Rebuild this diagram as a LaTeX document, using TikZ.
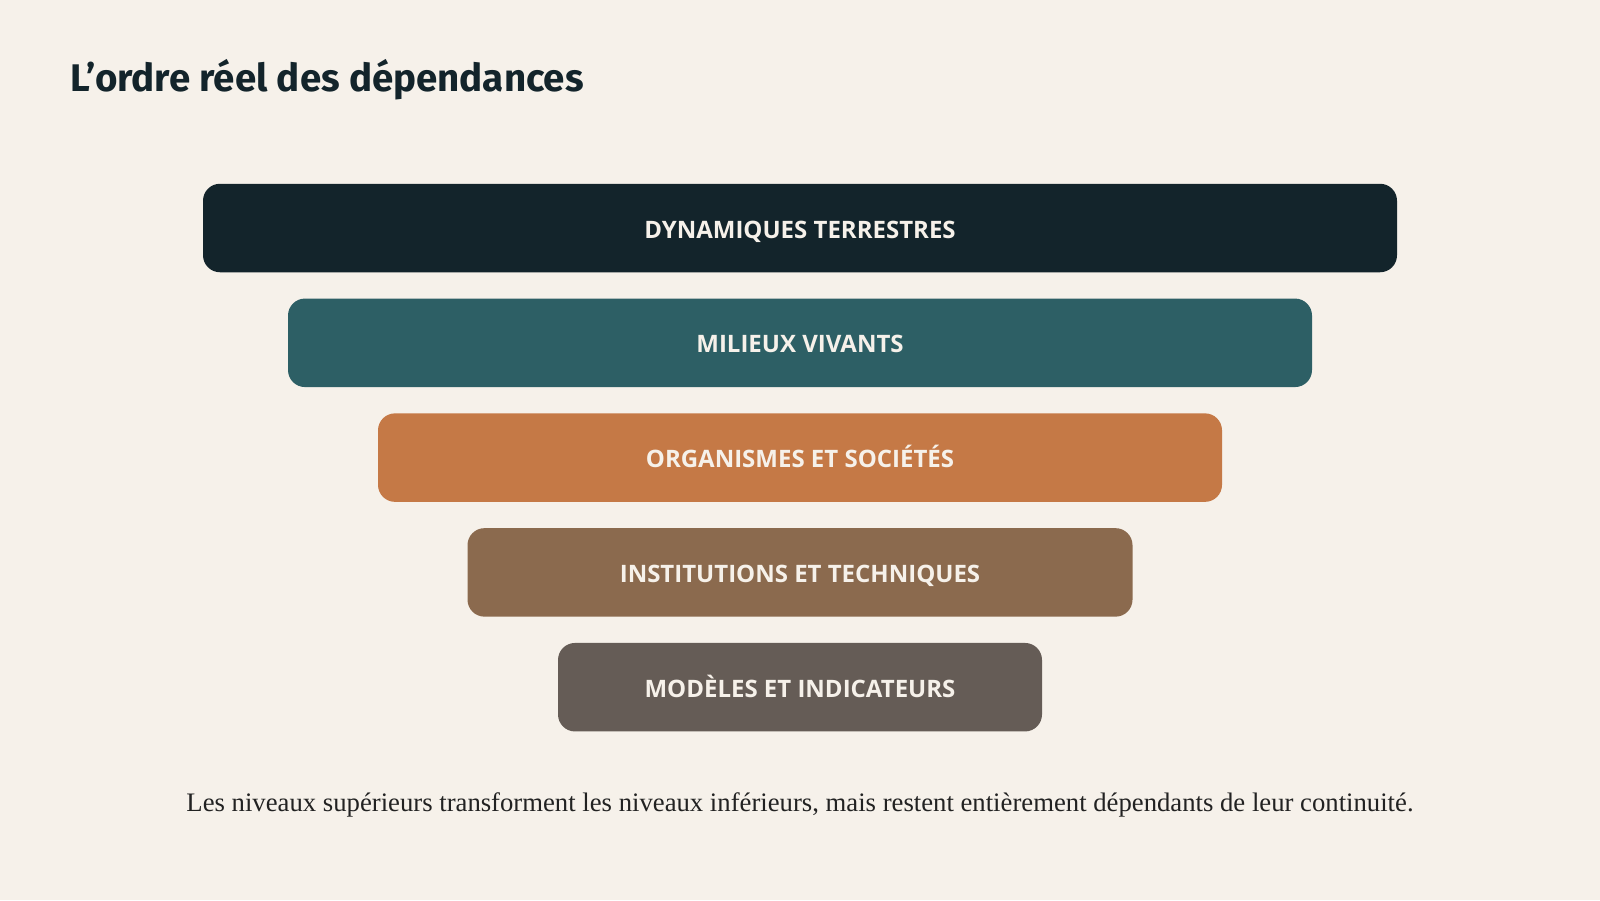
\documentclass[tikz,border=0pt]{standalone}
\usepackage{fontspec}
\setmainfont{Liberation Serif}
\setsansfont{Fira Sans}
\newfontfamily\labelfont{Open Sans}
\usetikzlibrary{positioning}

\definecolor{paper}{HTML}{F6F1EA}
\definecolor{ink}{HTML}{13242B}
\definecolor{caption}{HTML}{222222}
\definecolor{terre}{HTML}{13242B}
\definecolor{vivant}{HTML}{2D5F65}
\definecolor{societe}{HTML}{C57946}
\definecolor{technique}{HTML}{8B6A4E}
\definecolor{modele}{HTML}{655C56}

\begin{document}
\begin{tikzpicture}[
      x=1pt, y=-1pt,
      level/.style={rounded corners=17pt, minimum height=88.5pt, inner sep=0pt,
        text height=20pt, text depth=0pt,
        text=paper, font=\labelfont\bfseries\fontsize{24}{28}\selectfont},
      title/.style={anchor=base west, text=ink, inner sep=0pt,
        font=\sffamily\bfseries\fontsize{38.5}{44}\selectfont},
      note/.style={anchor=base, text=caption, inner sep=0pt,
        font=\rmfamily\fontsize{26.7}{32}\selectfont}
    ]

    % Background and page size
    \fill[paper] (0,0) rectangle (1600,900);
    \useasboundingbox (0,0) rectangle (1600,900);

    % Title
    \node[title] (titre) at (70,91) {L’ordre réel des dépendances};

    % The five levels, from the widest to the narrowest
    \foreach \name/\w/\col/\txt [count=\i from 0] in {
        terre/1194/terre/DYNAMIQUES TERRESTRES,
        vivant/1024/vivant/MILIEUX VIVANTS,
        societe/844/societe/ORGANISMES ET SOCIÉTÉS,
        technique/665/technique/INSTITUTIONS ET TECHNIQUES,
        modele/484/modele/MODÈLES ET INDICATEURS} {
      \node[level, fill=\col, minimum width=\w pt] (\name) at (800, 228+114.8*\i) {\txt};
    }

    % Caption
    \node[note] (legende) at (800,811) {Les niveaux supérieurs transforment les niveaux inférieurs, mais restent entièrement dépendants de leur continuité.};
  \end{tikzpicture}
\end{document}
